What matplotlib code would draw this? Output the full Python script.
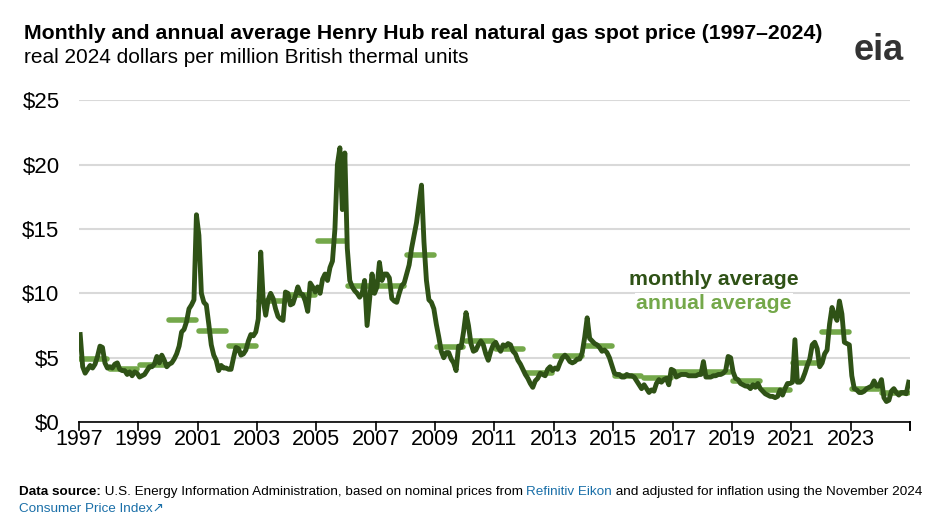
import numpy as np
import matplotlib.pyplot as plt

plt.rcParams['font.family'] = ['Liberation Sans', 'DejaVu Sans']

years = list(range(1997, 2025))

monthly = [
    6.8, 4.3, 3.8, 4.1, 4.4, 4.2, 4.5, 5.1, 5.9, 5.8, 4.6, 4.2,
    4.3, 4.2, 4.5, 4.6, 4.1, 4.0, 4.0, 3.7, 3.9, 3.6, 3.9, 3.8,
    3.5, 3.6, 3.7, 4.0, 4.3, 4.3, 4.5, 5.1, 4.6, 5.2, 4.8, 4.3,
    4.5, 4.6, 4.9, 5.3, 5.9, 7.0, 7.2, 7.8, 8.8, 9.1, 9.5, 16.1,
    14.5, 10.0, 9.3, 9.1, 7.6, 6.0, 5.2, 4.8, 4.0, 4.4, 4.2, 4.2,
    4.1, 4.1, 5.0, 5.8, 5.7, 5.2, 5.3, 5.6, 6.3, 6.8, 6.7, 7.0,
    8.0, 13.2, 9.5, 8.3, 9.5, 10.0, 9.6, 8.8, 8.2, 8.0, 7.9, 10.1,
    10.0, 9.1, 9.2, 9.8, 10.5, 10.0, 9.9, 9.4, 8.6, 10.8, 10.5, 10.1,
    10.5, 10.0, 11.1, 11.5, 11.0, 12.0, 12.5, 15.0, 20.0, 21.3, 16.5, 20.9,
    13.5, 11.0, 10.5, 10.2, 10.0, 9.7, 10.0, 11.0, 7.5, 9.5, 11.5, 10.0,
    10.5, 12.4, 11.0, 11.5, 11.5, 11.2, 9.6, 9.4, 9.3, 10.0, 10.6, 10.8,
    11.5, 12.2, 13.5, 14.5, 15.5, 17.0, 18.4, 14.0, 11.0, 9.5, 9.3, 8.8,
    7.6, 6.6, 5.5, 5.0, 5.4, 5.4, 4.9, 4.6, 4.0, 5.9, 5.8, 7.0,
    8.5, 7.5, 6.1, 5.5, 5.6, 6.0, 6.3, 6.0, 5.3, 4.8, 5.5, 6.0,
    6.2, 5.8, 5.5, 6.0, 5.9, 6.1, 6.0, 5.5, 5.3, 4.8, 4.5, 4.1,
    3.7, 3.4, 3.0, 2.7, 3.2, 3.4, 3.8, 3.7, 3.6, 4.1, 4.3, 4.0,
    4.2, 4.1, 4.6, 5.0, 5.2, 5.0, 4.7, 4.6, 4.7, 4.9, 4.9, 5.4,
    6.6, 8.1, 6.5, 6.3, 6.1, 6.0, 5.8, 5.5, 5.6, 5.4, 5.0, 4.4,
    3.8, 3.7, 3.7, 3.5, 3.5, 3.7, 3.6, 3.6, 3.5, 3.2, 2.9, 2.6,
    2.9, 2.6, 2.3, 2.5, 2.4, 3.0, 3.3, 3.1, 3.3, 3.4, 2.9, 4.1,
    4.0, 3.5, 3.6, 3.7, 3.7, 3.7, 3.6, 3.6, 3.6, 3.6, 3.7, 3.7,
    4.7, 3.5, 3.5, 3.5, 3.6, 3.6, 3.7, 3.7, 3.8, 4.0, 5.1, 5.0,
    3.9, 3.4, 3.3, 3.0, 2.9, 2.8, 2.8, 2.6, 2.9, 2.7, 3.0, 2.6,
    2.4, 2.2, 2.1, 2.0, 2.0, 1.9, 2.0, 2.5, 2.1, 2.6, 3.0, 3.0,
    3.1, 6.4, 3.1, 3.1, 3.3, 3.8, 4.4, 4.9, 6.0, 6.2, 5.7, 4.3,
    4.6, 5.3, 5.6, 7.6, 8.9, 8.3, 7.9, 9.4, 8.4, 6.2, 6.1, 6.0,
    3.6, 2.6, 2.5, 2.3, 2.3, 2.4, 2.6, 2.7, 2.8, 3.2, 2.8, 2.8,
    3.3, 1.9, 1.6, 1.7, 2.4, 2.6, 2.3, 2.1, 2.3, 2.3, 2.2, 3.1,
]

annual = [4.9, 4.1, 4.4, 7.9, 7.1, 5.9, 9.4, 9.9, 14.1, 10.6, 10.6, 13.0, 5.8, 6.3,
          5.7, 3.8, 5.1, 5.9, 3.6, 3.4, 3.9, 3.9, 3.2, 2.5, 4.6, 7.0, 2.6, 2.3]

dark = '#2f5216'
light = '#74a84a'
link = '#1a6fa8'

fig = plt.figure(figsize=(9.4, 5.27), dpi=100)
ax = fig.add_axes([0.084, 0.199, 0.884, 0.611])

t = 1997 + (np.arange(len(monthly)) + 0.5) / 12
for y, v in zip(years, annual):
    ax.plot([y + 0.05, y + 0.95], [v, v], color=light, lw=4, solid_capstyle='round', zorder=2)
ax.plot(t, monthly, color=dark, lw=3.5, zorder=3)

ax.set_xlim(1997, 2025)
ax.set_ylim(0, 25)
ax.set_yticks([0, 5, 10, 15, 20, 25])
ax.set_yticklabels(['$0', '$5', '$10', '$15', '$20', '$25'], fontsize=16)
ax.set_xticks(range(1997, 2026))
ax.set_xticklabels([str(y) if (y - 1997) % 2 == 0 and y < 2025 else '' for y in range(1997, 2026)], fontsize=15.5)
ax.tick_params(axis='y', length=0, pad=14)
ax.tick_params(axis='x', length=0, pad=5)
for y in list(range(1997, 2026, 2)) + [2025]:
    ax.plot([y, y], [0, -0.6], color='black', lw=1.2, clip_on=False)
ax.grid(axis='y', color='#d9d9d9', lw=1.5)
ax.set_axisbelow(True)
for s in ['top', 'right', 'left']:
    ax.spines[s].set_visible(False)
ax.spines['bottom'].set_linewidth(1.2)

ax.text(2018.4, 11.1, 'monthly average', color=dark, fontsize=15.3, fontweight='bold', ha='center', va='center',
        bbox=dict(facecolor='white', edgecolor='none', pad=1), zorder=4)
ax.text(2018.4, 9.2, 'annual average', color=light, fontsize=15.3, fontweight='bold', ha='center', va='center',
        bbox=dict(facecolor='white', edgecolor='none', pad=1), zorder=4)

fig.text(0.026, 0.937, 'Monthly and annual average Henry Hub real natural gas spot price (1997\u20132024)',
         fontsize=15.3, fontweight='bold', va='center')
fig.text(0.026, 0.891, 'real 2024 dollars per million British thermal units', fontsize=15, va='center')
fig.text(0.935, 0.905, 'eia', fontsize=26, fontweight='bold', color='#333333', ha='center', va='center')

t1 = fig.text(0.02, 0.066, 'Data source:', fontsize=9.7, fontweight='bold', va='center')
t2 = ax.annotate(' U.S. Energy Information Administration, based on nominal prices from ', xy=(1, 0),
                 xycoords=t1, va='bottom', fontsize=9.7)
t3 = ax.annotate('Refinitiv Eikon', xy=(1, 0), xycoords=t2, va='bottom', fontsize=9.7, color=link)
ax.annotate(' and adjusted for inflation using the November 2024', xy=(1, 0), xycoords=t3, va='bottom', fontsize=9.7)
fig.text(0.02, 0.035, 'Consumer Price Index\u2197', fontsize=9.7, color=link, va='center')

fig.savefig('out.png', dpi=100)
